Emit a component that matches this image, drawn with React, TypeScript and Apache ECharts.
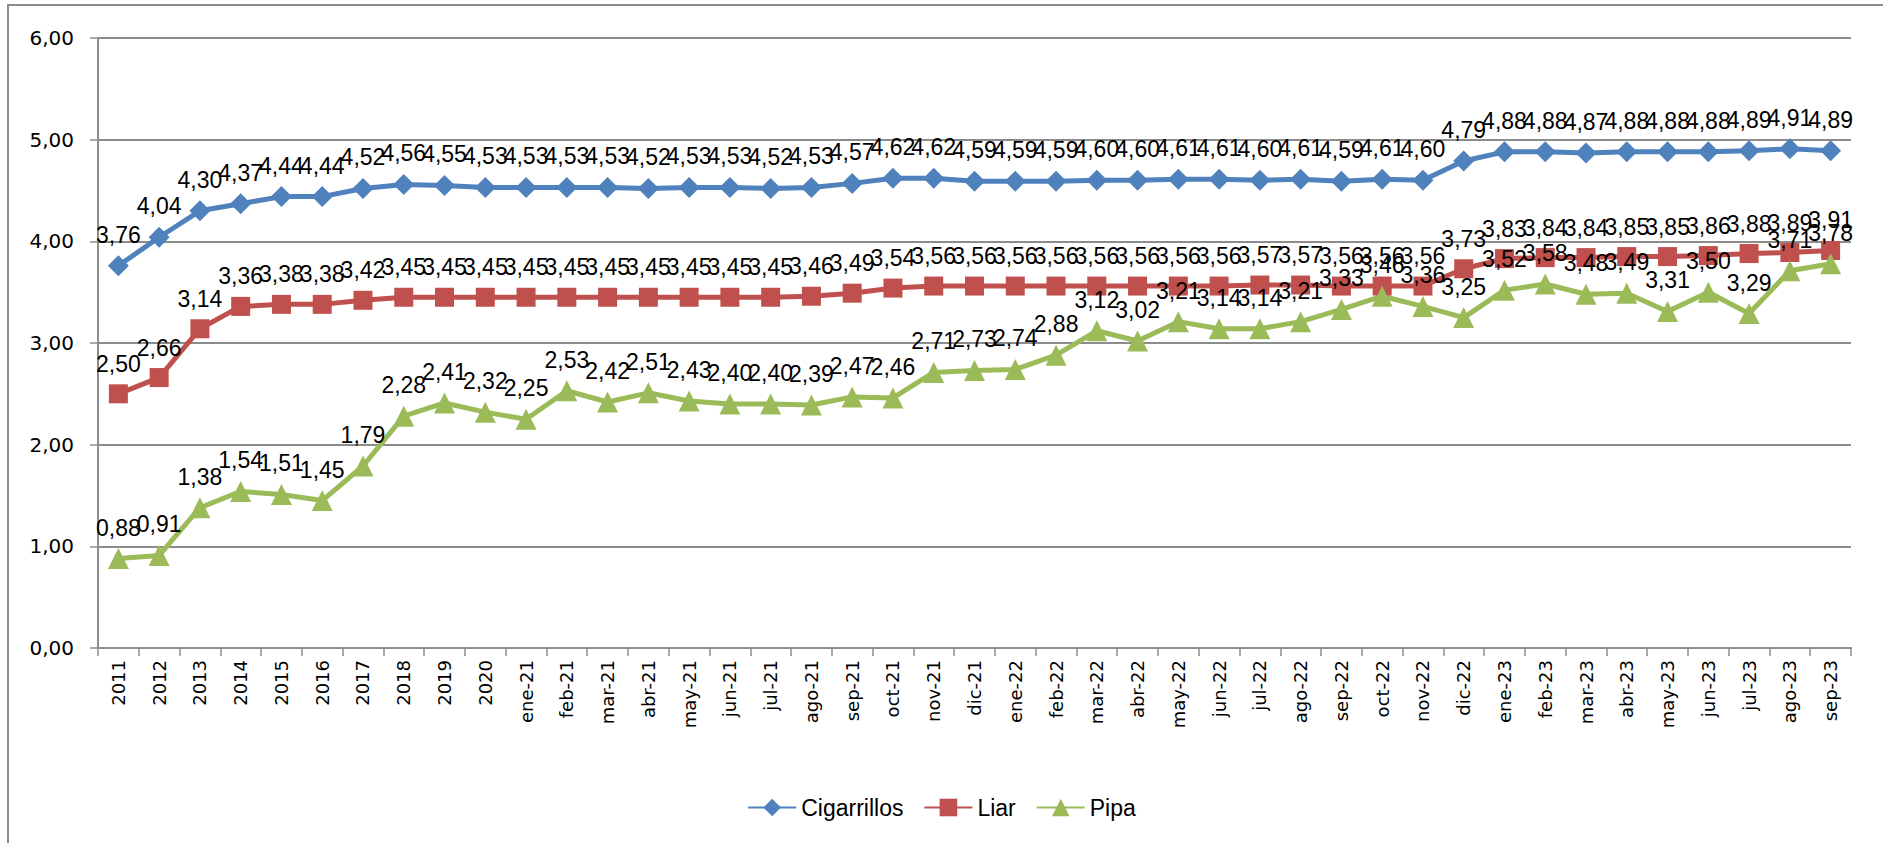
import React, { useEffect, useRef } from "react";
import * as echarts from "echarts";

const categories = [
  "2011", "2012", "2013", "2014", "2015", "2016", "2017", "2018", "2019", "2020",
  "ene-21", "feb-21", "mar-21", "abr-21", "may-21", "jun-21", "jul-21", "ago-21", "sep-21", "oct-21", "nov-21", "dic-21",
  "ene-22", "feb-22", "mar-22", "abr-22", "may-22", "jun-22", "jul-22", "ago-22", "sep-22", "oct-22", "nov-22", "dic-22",
  "ene-23", "feb-23", "mar-23", "abr-23", "may-23", "jun-23", "jul-23", "ago-23", "sep-23",
];

const cigarrillos = [
  3.76, 4.04, 4.30, 4.37, 4.44, 4.44, 4.52, 4.56, 4.55, 4.53,
  4.53, 4.53, 4.53, 4.52, 4.53, 4.53, 4.52, 4.53, 4.57, 4.62, 4.62, 4.59,
  4.59, 4.59, 4.60, 4.60, 4.61, 4.61, 4.60, 4.61, 4.59, 4.61, 4.60, 4.79,
  4.88, 4.88, 4.87, 4.88, 4.88, 4.88, 4.89, 4.91, 4.89,
];

const liar = [
  2.50, 2.66, 3.14, 3.36, 3.38, 3.38, 3.42, 3.45, 3.45, 3.45,
  3.45, 3.45, 3.45, 3.45, 3.45, 3.45, 3.45, 3.46, 3.49, 3.54, 3.56, 3.56,
  3.56, 3.56, 3.56, 3.56, 3.56, 3.56, 3.57, 3.57, 3.56, 3.56, 3.56, 3.73,
  3.83, 3.84, 3.84, 3.85, 3.85, 3.86, 3.88, 3.89, 3.91,
];

const pipa = [
  0.88, 0.91, 1.38, 1.54, 1.51, 1.45, 1.79, 2.28, 2.41, 2.32,
  2.25, 2.53, 2.42, 2.51, 2.43, 2.40, 2.40, 2.39, 2.47, 2.46, 2.71, 2.73,
  2.74, 2.88, 3.12, 3.02, 3.21, 3.14, 3.14, 3.21, 3.33, 3.46, 3.36, 3.25,
  3.52, 3.58, 3.48, 3.49, 3.31, 3.50, 3.29, 3.71, 3.78,
];

const fmt = (v: number) => v.toFixed(2).replace(".", ",");

export default function App() {
  const ref = useRef<HTMLDivElement>(null);
  useEffect(() => {
    if (!ref.current) return;
    const chart = echarts.init(ref.current, null, { renderer: "svg" });
    const labelFont = "'Liberation Sans', Arial, sans-serif";
    const mkSeries = (name: string, data: number[], color: string, symbol: string, size: number) => ({
      name,
      type: "line",
      data,
      symbol,
      symbolSize: size,
      lineStyle: { color, width: 5 },
      itemStyle: { color },
      label: {
        show: true,
        position: "top",
        distance: 9,
        color: "#000",
        fontSize: 23,
        fontFamily: labelFont,
        formatter: (p: any) => fmt(p.value),
      },
    });
    chart.setOption({
      animation: false,
      backgroundColor: "#fff",
      grid: { left: 98, right: 32, top: 38, bottom: 195, containLabel: false },
      xAxis: {
        type: "category",
        data: categories,
        boundaryGap: true,
        axisLine: { lineStyle: { color: "#8c8c8c", width: 2 } },
        axisTick: { show: true, length: 8, lineStyle: { color: "#8c8c8c", width: 1.5 } },
        axisLabel: {
          rotate: 90,
          interval: 0,
          margin: 12,
          color: "#000",
          fontSize: 18,
          fontFamily: "'DejaVu Sans', Verdana, sans-serif",
        },
      },
      yAxis: {
        type: "value",
        min: 0,
        max: 6,
        interval: 1,
        axisLine: { show: true, lineStyle: { color: "#8c8c8c", width: 2 } },
        axisTick: { show: true, length: 8, lineStyle: { color: "#8c8c8c", width: 1.5 } },
        splitLine: { lineStyle: { color: "#8c8c8c", width: 2 } },
        axisLabel: {
          margin: 24,
          color: "#000",
          fontSize: 20,
          fontFamily: "'DejaVu Sans', Verdana, sans-serif",
          formatter: (v: number) => fmt(v),
        },
      },
      legend: {
        show: true,
        left: "center",
        top: 791,
        itemWidth: 48,
        itemHeight: 22,
        itemGap: 20,
        textStyle: { color: "#000", fontSize: 23, fontFamily: labelFont },
        data: ["Cigarrillos", "Liar", "Pipa"],
      },
      graphic: [
        {
          type: "rect",
          shape: { x: 8, y: 5, width: 1960, height: 900 },
          style: { fill: "none", stroke: "#8c8c8c", lineWidth: 2 },
          silent: true,
        },
      ],
      series: [
        mkSeries("Cigarrillos", cigarrillos, "#4F81BD", "diamond", 21),
        mkSeries("Liar", liar, "#C0504D", "rect", 19),
        mkSeries("Pipa", pipa, "#9BBB59", "triangle", 21),
      ],
    });
    return () => chart.dispose();
  }, []);
  return (
    <div
      ref={ref}
      style={{ position: "fixed", left: 0, top: 0, width: 1883, height: 843, background: "#fff" }}
    />
  );
}
